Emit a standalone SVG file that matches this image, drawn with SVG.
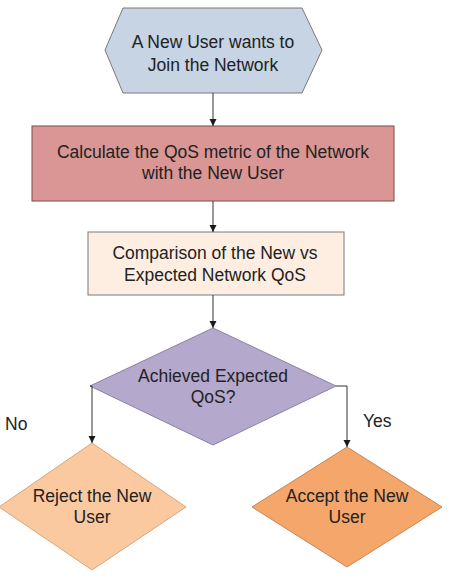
<svg xmlns="http://www.w3.org/2000/svg" width="453" height="588" viewBox="0 0 453 588">
<defs>
<marker id="arr" markerWidth="8" markerHeight="8" refX="7" refY="4" orient="auto" markerUnits="userSpaceOnUse">
<path d="M0,0.5 L7,4 L0,7.5 z" fill="#1a1a1a"/>
</marker>
<style>
text{font-family:"Liberation Sans",Arial,sans-serif;font-size:17.5px;fill:#222;text-anchor:middle}
.lbl{text-anchor:start}
.c{fill:none;stroke:#333;stroke-width:1}
</style>
</defs>
<rect width="453" height="588" fill="#fff"/>
<g id="start">
<polygon points="105,50 123,8 302,8 322,50 302,93 123,93" fill="#c7d4e4" stroke="#7a7a7a" stroke-width="1"/>
<text x="213" y="48">A New User wants to</text>
<text x="213" y="71">Join the Network</text>
</g>
<g id="calc">
<rect x="32" y="126" width="362" height="75" fill="#d99694" stroke="#7d4a4a" stroke-width="1"/>
<text x="213" y="158">Calculate the QoS metric of the Network</text>
<text x="213" y="179">with the New User</text>
</g>
<g id="compare">
<rect x="88" y="232" width="256" height="63" fill="#fdeee1" stroke="#7a7a7a" stroke-width="1"/>
<text x="215" y="259">Comparison of the New vs</text>
<text x="215" y="281">Expected Network QoS</text>
</g>
<g id="decision">
<polygon points="213,328 336,386 213,445 90,386" fill="#b4a8cc" stroke="#8a80a6" stroke-width="1"/>
<text x="213" y="382">Achieved Expected</text>
<text x="213" y="403">QoS?</text>
</g>
<g id="reject">
<polygon points="92,443 186,507 92,570 -1,507" fill="#fbc9a0" stroke="#d9a67c" stroke-width="1"/>
<text x="92" y="502">Reject the New</text>
<text x="92" y="523">User</text>
</g>
<g id="accept">
<polygon points="347,447 442,507 347,567 252,507" fill="#f5a66b" stroke="#c88452" stroke-width="1"/>
<text x="347" y="502">Accept the New</text>
<text x="347" y="523">User</text>
</g>
<g id="connectors">
<line class="c" x1="213" y1="93" x2="213" y2="126" marker-end="url(#arr)"/>
<line class="c" x1="213" y1="201" x2="213" y2="232" marker-end="url(#arr)"/>
<line class="c" x1="213" y1="295" x2="213" y2="328" marker-end="url(#arr)"/>
<polyline class="c" points="90,386 92,386 92,443" marker-end="url(#arr)"/>
<polyline class="c" points="336,386 347,386 347,447" marker-end="url(#arr)"/>
</g>
<text class="lbl" x="5" y="430">No</text>
<text class="lbl" x="363" y="427">Yes</text>
</svg>
